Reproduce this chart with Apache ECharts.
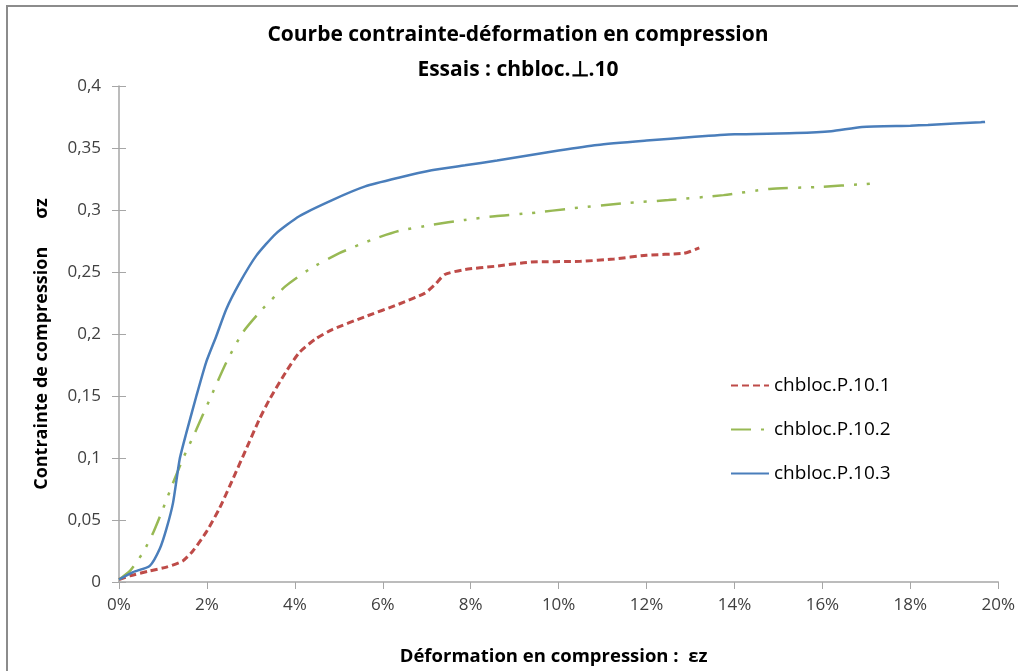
<!DOCTYPE html>
<html>
<head>
<meta charset="utf-8">
<script src="https://cdn.jsdelivr.net/npm/echarts@6/dist/echarts.min.js"></script>
<style>html,body{margin:0;padding:0;background:#fff;}#chart{width:1018px;height:671px;}</style>
</head>
<body>
<div id="chart"></div>
<script>
const titleLine1 = 'Courbe contrainte-déformation en compression';
const titleLine2 = 'Essais : chbloc.\u22A5.10';
const xAxisTitle = 'Déformation en compression :  \u03B5z';
const yAxisTitle = 'Contrainte de compression      \u03C3z';
const seriesNames = ['chbloc.P.10.1', 'chbloc.P.10.2', 'chbloc.P.10.3'];

// strain in %, stress values
const s1x = [0, 0.25, 0.7, 1.08, 1.45, 1.68, 1.98, 2.28, 2.59, 2.89, 3.19, 3.42, 3.79, 4.1, 4.47, 4.85, 5.6, 6.36, 6.96, 7.19, 7.41, 7.87, 8.55, 9.37, 10.5, 11.26, 12.0, 12.84, 13.0, 13.2];
const s1y = [0.002, 0.005, 0.009, 0.012, 0.017, 0.025, 0.040, 0.059, 0.083, 0.107, 0.131, 0.147, 0.169, 0.185, 0.196, 0.2036, 0.214, 0.224, 0.233, 0.240, 0.248, 0.252, 0.2546, 0.258, 0.2586, 0.2605, 0.2635, 0.265, 0.2667, 0.2694];

const s2x = [0, 0.25, 0.55, 0.78, 1.0, 1.23, 1.45, 1.76, 2.06, 2.44, 2.81, 3.26, 3.79, 4.32, 5.0, 5.75, 6.36, 7.11, 7.87, 8.55, 9.37, 10.35, 11.5, 12.5, 13.75, 14.8, 15.86, 17.0, 17.2];
const s2y = [0.002, 0.009, 0.024, 0.040, 0.059, 0.080, 0.099, 0.123, 0.147, 0.177, 0.201, 0.220, 0.2386, 0.252, 0.265, 0.276, 0.283, 0.288, 0.292, 0.295, 0.2975, 0.3015, 0.3055, 0.308, 0.312, 0.317, 0.3185, 0.321, 0.3217];

const s3x = [0, 0.32, 0.7, 0.93, 1.08, 1.23, 1.38, 1.53, 1.76, 1.98, 2.21, 2.44, 2.74, 3.12, 3.57, 4.1, 4.85, 5.6, 6.36, 7.11, 7.87, 8.6, 10.0, 10.88, 12.0, 13.1, 14.0, 15.4, 16.2, 16.9, 18.0, 18.4, 19.6, 19.7];
const s3y = [0.002, 0.008, 0.013, 0.027, 0.043, 0.064, 0.099, 0.120, 0.150, 0.177, 0.198, 0.220, 0.241, 0.263, 0.281, 0.295, 0.308, 0.319, 0.326, 0.332, 0.336, 0.340, 0.348, 0.3525, 0.356, 0.359, 0.361, 0.362, 0.3635, 0.367, 0.368, 0.3686, 0.3708, 0.371];

const xTicks = [0, 2, 4, 6, 8, 10, 12, 14, 16, 18, 20];
const yTicks = [0, 0.05, 0.1, 0.15, 0.2, 0.25, 0.3, 0.35, 0.4];

const colors = ['#BE4B48', '#98B954', '#4A7EBB'];
const pair = (xs, ys) => xs.map((x, i) => [x, ys[i]]);
const fmtY = v => '{t|' + String(Math.round(v * 100) / 100).replace('.', ',') + '}';
const fmtX = v => '{t|' + v + '%}';

const chart = echarts.init(document.getElementById('chart'), null, {renderer: 'canvas'});
const axisGray = '#A6A6A6';
const labelColor = '#404040';
const fontFam = '"Open Sans", "Noto Sans", sans-serif';
const tickRich = {t: {fontSize: 17, color: labelColor, fontFamily: fontFam}};

chart.setOption({
  animation: false,
  backgroundColor: '#fff',
  graphic: [{
    type: 'rect', shape: {x: 7, y: 6, width: 1200, height: 900},
    style: {fill: 'none', stroke: '#8C8C8C', lineWidth: 2}, silent: true
  }],
  title: {
    text: titleLine1 + '\n' + titleLine2,
    left: 518, top: 18, padding: 0, textAlign: 'center',
    textStyle: {fontSize: 21, fontWeight: 'bold', color: '#000', fontFamily: fontFam, lineHeight: 35}
  },
  legend: {
    orient: 'vertical', left: 725, top: 371,
    itemWidth: 38, itemHeight: 14, itemGap: 25,
    itemStyle: {opacity: 0},
    textStyle: {fontSize: 19, color: '#000', fontFamily: fontFam},
    data: seriesNames
  },
  grid: {left: 119, right: 15, top: 86, bottom: 88, containLabel: false},
  xAxis: {
    type: 'value', min: xTicks[0], max: xTicks[xTicks.length - 1], interval: 2,
    name: xAxisTitle, nameLocation: 'middle', nameGap: 65,
    nameTextStyle: {fontSize: 18.5, fontWeight: 'bold', color: '#000', fontFamily: fontFam, padding: [0, 10, 0, 0]},
    axisLine: {show: true, lineStyle: {color: axisGray, width: 1.5}},
    axisTick: {show: true, inside: false, length: 7, lineStyle: {color: axisGray}},
    axisLabel: {formatter: fmtX, color: labelColor, margin: 15, fontSize: 17, rich: tickRich},
    splitLine: {show: false}
  },
  yAxis: [{
    type: 'value', min: yTicks[0], max: yTicks[yTicks.length - 1], interval: 0.05,
    name: yAxisTitle, nameLocation: 'middle', nameGap: 68, nameRotate: 90,
    nameTextStyle: {fontSize: 18, fontWeight: 'bold', color: '#000', fontFamily: fontFam, padding: [0, 20, 0, 0]},
    axisLine: {show: true, lineStyle: {color: axisGray, width: 1.5}},
    axisTick: {show: true, inside: false, length: 7, lineStyle: {color: axisGray}},
    axisLabel: {formatter: fmtY, color: labelColor, margin: 18, fontSize: 17, rich: tickRich},
    splitLine: {show: false}
  }, {
    type: 'value', position: 'left', min: yTicks[0], max: yTicks[yTicks.length - 1], interval: 0.05,
    axisLine: {show: false},
    axisTick: {show: true, inside: true, length: 7, lineStyle: {color: axisGray}},
    axisLabel: {show: false}, splitLine: {show: false}
  }],
  series: [
    {name: seriesNames[0], type: 'line', data: pair(s1x, s1y), symbol: 'none', smooth: 0.2,
     color: colors[0], lineStyle: {color: colors[0], width: 3, type: [7, 4]}},
    {name: seriesNames[1], type: 'line', data: pair(s2x, s2y), symbol: 'none', smooth: 0.2,
     color: colors[1], lineStyle: {color: colors[1], width: 2.5, type: [20, 10, 3, 10, 3, 10]}},
    {name: seriesNames[2], type: 'line', data: pair(s3x, s3y), symbol: 'none', smooth: 0.2,
     color: colors[2], lineStyle: {color: colors[2], width: 2.5, type: 'solid'}}
  ]
});
</script>
</body>
</html>
